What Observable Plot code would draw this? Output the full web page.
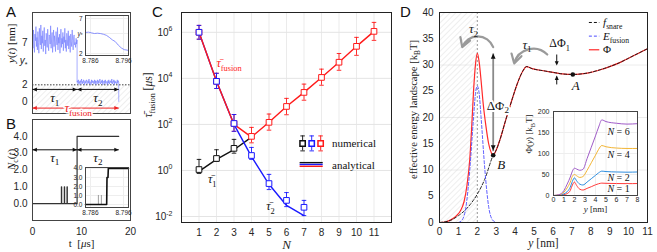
<!DOCTYPE html>
<html><head><meta charset="utf-8">
<script src="https://cdn.jsdelivr.net/npm/d3@7"></script>
<script src="https://cdn.jsdelivr.net/npm/@observablehq/plot@0.6"></script>
<style>
body{margin:0;background:#fff;}
#wrap{position:relative;width:657px;height:252px;overflow:hidden;background:#fff;}
.lbl{position:absolute;font:15px "Liberation Sans",Arial,sans-serif;color:#111;line-height:15px;}
</style></head><body>
<svg width="0" height="0" style="position:absolute"><defs>
<pattern id="hatch" width="4" height="4" patternUnits="userSpaceOnUse" patternTransform="rotate(45)"><line x1="0" y1="0" x2="0" y2="4" stroke="#cfcfcf" stroke-width="0.7"/></pattern>
</defs></svg>
<div id="wrap">
<div class="lbl" style="left:6px;top:4px">A</div>
<div class="lbl" style="left:6px;top:116px">B</div>
<div class="lbl" style="left:152px;top:4px">C</div>
<div class="lbl" style="left:400px;top:4px">D</div>
</div>
<script>
// ================= DATA =================
// Panel A / B : time axis (µs)
const phaseT = [0, 9.1, 17.6];
const yPhase1 = [7.8,6.4,8.6,7.0,5.9,8.1,7.3,9.0,6.6,7.7,6.2,8.4,7.1,5.8,8.8,7.5,6.8,9.2,6.3,7.9,7.0,8.5,6.0,7.6,8.9,6.7,7.4,5.7,8.2,7.2,6.5,8.7,7.0,6.1,8.0,7.8,6.9,9.1,6.4,7.5,8.3,5.9,7.1,8.6,6.6,7.9,7.2,6.0,8.4,7.4,6.8,8.9,6.2,7.7,7.0,8.1,5.8,7.3,8.7,6.5,7.6,6.9,8.3,6.1,7.8,7.1,8.8,6.4,7.4,6.0,8.2,7.5,6.7,8.5,6.3,7.9,7.0,5.9,8.1,7.2,6.6,8.6,7.3,6.2,7.8,8.0,6.8,7.1,6.5,7.6,6.9,7.4];
const yPhase2 = [2.3,2.5,2.1,2.6,2.2,2.4,2.0,2.5,2.3,2.7,2.1,2.4,2.2,2.6,2.3,2.0,2.5,2.2,2.4,2.6,2.1,2.3,2.5,2.2,2.7,2.1,2.4,2.3,2.0,2.6,2.2,2.5,2.3,2.4,2.1,2.6,2.2,2.5,2.0,2.4,2.3,2.6,2.1,2.5,2.2,2.4,2.7,2.1,2.3,2.5,2.2,2.6,2.0,2.4,2.3,2.5,2.1,2.6,2.2,2.4,2.3,2.0,2.5,2.2,2.6,2.1,2.4,2.3,2.5,2.2,2.7,2.1,2.4,2.3,2.6,2.0,2.5,2.2,2.4,2.3,2.1,2.6,2.2,2.5,2.3];
const yStar = 4.85;
const thresholdA = 2;
const yTicksA = [0, 2, yStar, 7];
const yTickLabA = ["0", "2", "$y$_{*}", "7"];
const insetAT = [8.7845,8.7854,8.7863,8.7872,8.7881,8.7890,8.7899,8.7908,8.7917,8.7926,8.7935,8.7944,8.7953,8.7962,8.7974];
const insetAY = [5.0,5.05,4.95,4.85,4.9,4.85,4.75,4.6,4.3,3.95,3.7,3.2,2.8,2.55,2.45];
const insetTicks = [8.786, 8.796];
const insetTickLab = ["8.786", "8.796"];
// Nc(t)
const nT = [0, 5.9, 5.95, 6.5, 6.55, 7.05, 7.1, 9.1, 17.6];
const nV = [0, 1, 0, 1, 0, 1, 0, 4, 4];
const insetBT = [8.7845, 8.7909, 8.7910, 8.7913, 8.7914, 8.7975];
const insetBN = [0, 0, 3, 3, 4, 4];
const insetBSpikes = [8.7884, 8.7893];

// Panel C (log10 of mean fusion time, µs)
const Ns = [1,2,3,4,5,6,7,8,9,10,11];
const fusNumLog = [6.0,3.87,2.04,1.48,2.09,2.78,3.39,4.04,4.7,5.39,6.04];
const fusHiLog  = [6.3,4.22,2.43,1.87,2.45,3.13,3.75,4.4,5.08,5.78,6.43];
const fusLoLog  = [5.7,3.56,1.7,1.2,1.75,2.42,3.05,3.7,4.35,5.0,5.65];
const fusAnaLog = [6.0,3.87,2.0,1.45,2.09,2.78,3.39,4.04,4.7,5.39,6.04];
const N2 = [1,2,3,4,5,6,7];
const t2NumLog = [6.0,3.87,2.04,0.65,-0.57,-1.3,-1.6];
const t2HiLog  = [6.3,4.22,2.43,1.0,-0.17,-0.96,-1.3];
const t2LoLog  = [5.7,3.56,1.7,0.48,-0.83,-1.57,-1.96];
const t2AnaLog = [6.0,3.87,2.0,0.6,-0.6,-1.52,-1.96];
const N1 = [1,2,3];
const t1NumLog = [0.04,0.52,0.96];
const t1HiLog  = [0.48,0.9,1.35];
const t1LoLog  = [-0.13,0.39,0.75];
const N1ana = [1,2,3,4];
const t1AnaLog = [-0.04,0.48,0.9,1.45];
const yTicksC = [1e-2, 1, 1e2, 1e4, 1e6];
const yTickLabC = ["10^{-2}", "10^{0}", "10^{2}", "10^{4}", "10^{6}"];

// Panel D (energy landscape, kBT vs y nm)
const phiX = [0,0.3,0.6,0.9,1.1,1.3,1.45,1.6,1.7,1.8,1.9,2.0,2.1,2.2,2.3,2.45,2.6,2.75,2.84,3.0,3.2,3.5,3.8,4.1,4.4,4.6,4.9,5.5,6.0,6.5,7.05,7.5,8.0,8.5,9.0,9.5,10.0,10.5,11];
const phiV = [0,0.1,0.5,1.3,2.2,4,7,12,18,25,30,32.2,30.5,27,23,18.5,15,13.2,12.8,13.8,15.8,19.5,23,26.3,28.8,29.7,29.3,28.9,28.6,28.3,28.2,28.3,28.6,29.1,29.7,30.4,31.3,32.2,33.1];
const snareX = [0,0.5,1,1.5,2,2.4,2.84];
const snareV = [0,0.3,1.3,2.9,5.4,8.3,12.8];
const efusX = [1.0,1.2,1.4,1.6,1.8,1.9,2.0,2.1,2.2,2.4,2.6,2.8,3.0];
const efusV = [0,0.5,3,10,20,24.5,26,24.5,20,10,3,0.5,0];
const hatchD = 2;
const pointA = {x:7.05, y:28.2};
const pointB = {x:2.84, y:12.8};
const insetX = [0,0.5,1,1.3,1.6,1.8,2,2.2,2.5,2.8,3.2,3.6,4,4.3,4.6,5,6,7,8];
const phiN1 = [0,0.3,2,4.5,12,25,32,24,15,13,17,21,25.5,28,29.5,29,28.5,28.2,28.5];
const phiN2 = [0,0.6,4,9,20,34,42,35,27,25,32,40,48,54,58,57,56,55.5,56];
const phiN4 = [0,1.2,8,18,32,46,50,47,43,45,60,78,96,110,119,116,113,112,112];
const phiN6 = [0,1.8,12,27,44,58,65,63,60,62,88,115,142,163,180,176,172,170,171];
const insetSeries = ["N = 1","N = 2","N = 4","N = 6"];

// ================= HELPERS =================
const wrap = document.getElementById("wrap");
const SANS = "Liberation Sans, Arial, Helvetica, sans-serif";
const SERIF = "Liberation Serif, Times New Roman, serif";
const common = (left, top) => ({position:"absolute", left:left+"px", top:top+"px", background:"transparent", overflow:"visible", fontFamily:SANS, fontSize:"10px", color:"#262626"});
const tri = (ang) => ({draw(ctx, size){
  const r = Math.sqrt(size/Math.PI), L = r*2.2, W = r*1.0, ca = Math.cos(ang), sa = Math.sin(ang);
  const p = [[0,0],[-L,-W],[-L,W]].map(([x,y]) => [x*ca - y*sa, x*sa + y*ca]);
  ctx.moveTo(p[0][0],p[0][1]); ctx.lineTo(p[1][0],p[1][1]); ctx.lineTo(p[2][0],p[2][1]); ctx.closePath();
}});
const triR = tri(0), triL = tri(Math.PI), triD = tri(Math.PI/2), triU = tri(-Math.PI/2);
const mapOf = (ks, vs) => new Map(ks.map((k,i)=>[k, vs[i]]));
const place = (svg) => wrap.appendChild(svg);
const pow = (v) => Math.pow(10, v);

// ================= PANEL A =================
const xDomT = [0, 20];
const yDomA = [-1.45, 10.7];
const sigA = [];
yPhase1.forEach((v,i)=>sigA.push({t: phaseT[0] + i*(phaseT[1]-phaseT[0])/(yPhase1.length-1), y: v}));
yPhase2.forEach((v,i)=>sigA.push({t: phaseT[1] + i*(phaseT[2]-phaseT[1])/(yPhase2.length-1), y: v}));
sigA.push({t: phaseT[2], y: 0});
const arrowYA = [1.45, -0.8];
const arrowsA = [
  {x1:phaseT[0], x2:phaseT[1], y:arrowYA[0], c:"#111"},
  {x1:phaseT[1], x2:phaseT[2], y:arrowYA[0], c:"#111"},
  {x1:phaseT[0], x2:phaseT[2], y:arrowYA[1], c:"#ee2222"}
];
const textsA = [
  {x:(phaseT[0]+phaseT[1])/2, y:0.45, s:"$τ$_{1}", c:"#111"},
  {x:(phaseT[1]+phaseT[2])/2, y:0.45, s:"$τ$_{2}", c:"#111"},
  {x:(phaseT[0]+phaseT[2])/2 + 0.5, y:arrowYA[1], s:"$τ$_{fusion}", c:"#ee2222"}
];
const labA = mapOf(yTicksA, yTickLabA);
place(Plot.plot({
  width:135, height:118, marginLeft:32, marginRight:5, marginTop:12, marginBottom:5,
  style: common(0,0), color:{type:"identity"},
  x:{domain:xDomT, axis:null},
  y:{domain:yDomA, ticks:yTicksA, tickFormat:d=>labA.get(d), tickSize:0, tickPadding:5, label:null},
  marks:[
    Plot.rect([0], {x1:xDomT[0], x2:xDomT[1], y1:yDomA[0], y2:thresholdA, fill:"url(#hatch)"}),
    Plot.ruleY([thresholdA], {stroke:"#111", strokeWidth:0.8, strokeDasharray:"1.5,1.5"}),
    Plot.line(sigA, {x:"t", y:"y", stroke:"#6f78ff", strokeWidth:0.6}),
    Plot.frame({stroke:"#444"}),
    Plot.link(arrowsA, {x1:"x1", x2:"x2", y1:"y", y2:"y", stroke:"c", strokeWidth:1}),
    Plot.dot(arrowsA, {x:"x1", y:"y", symbol:triL, r:2, fill:"c", stroke:"none"}),
    Plot.dot(arrowsA, {x:"x2", y:"y", symbol:triR, r:2, fill:"c", stroke:"none"}),
    Plot.text(textsA, {x:"x", y:"y", text:"s", fill:"c", fontFamily:SERIF, fontSize:13, stroke:d=>d.c==="#111"?"none":"white", strokeWidth:3}),
    Plot.text(["$y$($t$) [nm]"], {frameAnchor:"left", rotate:-90, dx:-21, fontFamily:SERIF, fontSize:11, fill:"#222"})
  ]
}));
// inset A
const labIn = mapOf(insetTicks, insetTickLab);
const labInA = mapOf([2, yStar, 7], ["2", "$y$_{*}", "7"]);
place(Plot.plot({
  width:60, height:65, marginLeft:15, marginRight:2, marginTop:10, marginBottom:15,
  style: {...common(70,5), fontSize:"6.5px"},
  x:{domain:[8.7845, 8.7975], ticks:insetTicks, tickFormat:d=>labIn.get(d), tickSize:0, tickPadding:3, label:null},
  y:{domain:[1.71, 7.43], ticks:[2, yStar, 7], tickFormat:d=>labInA.get(d), tickSize:0, tickPadding:3, label:null},
  marks:[
    Plot.frame({fill:"white", stroke:"none"}),
    Plot.ruleX(insetTicks, {stroke:"#eee"}),
    Plot.ruleY([2, yStar, 7], {stroke:"#eee"}),
    Plot.line(insetAT.map((t,i)=>({t, y:insetAY[i]})), {x:"t", y:"y", stroke:"#6f78ff", strokeWidth:0.8}),
    Plot.frame({stroke:"#444"})
  ]
}));

// ================= PANEL B =================
const nData = nT.map((t,i)=>({t, n:nV[i]}));
const arrowYB = 3.2;
const arrowsB = [
  {x1:phaseT[0], x2:phaseT[1], y:arrowYB},
  {x1:phaseT[1], x2:phaseT[2], y:arrowYB}
];
const textsB = [
  {x:(phaseT[0]+phaseT[1])/2, y:2.75, s:"$τ$_{1}"},
  {x:(phaseT[1]+phaseT[2])/2, y:2.75, s:"$τ$_{2}"}
];
place(Plot.plot({
  width:135, height:137, marginLeft:32, marginRight:5, marginTop:4, marginBottom:32,
  style: common(0,115),
  x:{domain:xDomT, ticks:[0,10,20], tickSize:0, tickPadding:7, label:null},
  y:{domain:[-1, 5], ticks:[0,1,2,3,4], tickSize:0, tickPadding:5, label:null},
  marks:[
    Plot.line(nData, {x:"t", y:"n", curve:"step-after", stroke:"#333", strokeWidth:1.2}),
    Plot.frame({stroke:"#444"}),
    Plot.link(arrowsB, {x1:"x1", x2:"x2", y1:"y", y2:"y", stroke:"#111", strokeWidth:1}),
    Plot.dot(arrowsB, {x:"x1", y:"y", symbol:triL, r:2, fill:"#111", stroke:"none"}),
    Plot.dot(arrowsB, {x:"x2", y:"y", symbol:triR, r:2, fill:"#111", stroke:"none"}),
    Plot.text(textsB, {x:"x", y:"y", text:"s", fill:"#111", fontFamily:SERIF, fontSize:13}),
    Plot.text(["$N$_{c}($t$)"], {frameAnchor:"left", rotate:-90, dx:-21, fontFamily:SERIF, fontSize:11, fill:"#222"}),
    Plot.text(["t  [$μ$s]"], {frameAnchor:"bottom", dy:26, fontFamily:SERIF, fontSize:11, fill:"#222"})
  ]
}));
// inset B
place(Plot.plot({
  width:60, height:65, marginLeft:15, marginRight:2, marginTop:10, marginBottom:15,
  style: {...common(70,157), fontSize:"6.5px"},
  x:{domain:[8.7845, 8.7975], ticks:insetTicks, tickFormat:d=>labIn.get(d), tickSize:0, tickPadding:3, label:null},
  y:{domain:[-0.33, 4.1], ticks:[0,1,2,3,4], tickSize:0, tickPadding:3, label:null},
  marks:[
    Plot.frame({fill:"white", stroke:"none"}),
    Plot.ruleX(insetTicks, {stroke:"#eee"}),
    Plot.ruleY([0,1,2,3,4], {stroke:"#eee"}),
    Plot.ruleX(insetBSpikes, {y1:0, y2:1, stroke:"#888", strokeWidth:0.8}),
    Plot.line(insetBT.map((t,i)=>({t, n:insetBN[i]})), {x:"t", y:"n", stroke:"#111", strokeWidth:1.6}),
    Plot.frame({stroke:"#444"})
  ]
}));

// ================= PANEL C =================
const mk = (Nx, v, lo, hi) => Nx.map((N,i)=>({N, v:pow(v[i]), lo:pow(lo[i]), hi:pow(hi[i])}));
const fusNum = mk(Ns, fusNumLog, fusLoLog, fusHiLog);
const t2Num = mk(N2, t2NumLog, t2LoLog, t2HiLog);
const t1Num = mk(N1, t1NumLog, t1LoLog, t1HiLog);
const fusAna = Ns.map((N,i)=>({N, v:pow(fusAnaLog[i])}));
const t2Ana = N2.map((N,i)=>({N, v:pow(t2AnaLog[i])}));
const t1Ana = N1ana.map((N,i)=>({N, v:pow(t1AnaLog[i])}));
const RED = "#ff1a1a", BLUE = "#1a1aff", BLK = "#111";
const capW = 0.13;
const errMarks = (data, c) => [
  Plot.ruleX(data, {x:"N", y1:"lo", y2:"hi", stroke:c, strokeWidth:0.9}),
  Plot.link(data, {x1:d=>d.N-capW, x2:d=>d.N+capW, y1:"hi", y2:"hi", stroke:c, strokeWidth:0.9}),
  Plot.link(data, {x1:d=>d.N-capW, x2:d=>d.N+capW, y1:"lo", y2:"lo", stroke:c, strokeWidth:0.9}),
  Plot.dot(data, {x:"N", y:"v", symbol:"square", r:3.2, fill:"white", stroke:c, strokeWidth:1})
];
const legNum = [
  {N:6.92, v:pow(1.17), lo:pow(0.85), hi:pow(1.5), c:BLK},
  {N:7.44, v:pow(1.17), lo:pow(0.85), hi:pow(1.5), c:BLUE},
  {N:7.95, v:pow(1.17), lo:pow(0.85), hi:pow(1.5), c:RED}
];
const legAna = [
  {x1:6.75, x2:8.07, v:pow(0.34), c:BLK},
  {x1:6.75, x2:8.07, v:pow(0.26), c:BLUE},
  {x1:6.75, x2:8.07, v:pow(0.18), c:RED}
];
const legTxt = [
  {N:8.6, v:pow(1.17), s:"numerical"},
  {N:8.6, v:pow(0.22), s:"analytical"}
];
const textsC = [
  {N:2.0, v:pow(4.65), s:"$τ̄$_{fusion}", c:RED, a:"start"},
  {N:1.75, v:pow(-0.39), s:"$τ̄$_{1}", c:BLK, a:"middle"},
  {N:5.08, v:pow(-1.57), s:"$τ̄$_{2}", c:BLK, a:"middle"}
];
const labC = mapOf(yTicksC, yTickLabC);
place(Plot.plot({
  width:275, height:252, marginLeft:46, marginRight:19, marginTop:12, marginBottom:30,
  style: common(135,0), color:{type:"identity"},
  x:{domain:[0,12], ticks:Ns, tickSize:0, tickPadding:6, label:null},
  y:{type:"log", domain:[pow(-2.26), pow(6.86)], ticks:yTicksC, tickFormat:d=>labC.get(d), tickSize:0, tickPadding:9, label:null},
  marks:[
    Plot.ruleX(Ns, {stroke:"#ebebeb"}),
    Plot.ruleY(yTicksC, {stroke:"#e4e4e4"}),
    Plot.line(t1Ana, {x:"N", y:"v", stroke:BLK, strokeWidth:1.4}),
    Plot.line(t2Ana, {x:"N", y:"v", stroke:BLUE, strokeWidth:1.4}),
    Plot.line(fusAna, {x:"N", y:"v", stroke:RED, strokeWidth:1.4}),
    ...errMarks(t1Num, BLK),
    ...errMarks(fusNum, RED),
    ...errMarks(t2Num, BLUE),
    Plot.ruleX(legNum, {x:"N", y1:"lo", y2:"hi", stroke:"c", strokeWidth:0.9}),
    Plot.link(legNum, {x1:d=>d.N-capW, x2:d=>d.N+capW, y1:"hi", y2:"hi", stroke:"c", strokeWidth:0.9}),
    Plot.link(legNum, {x1:d=>d.N-capW, x2:d=>d.N+capW, y1:"lo", y2:"lo", stroke:"c", strokeWidth:0.9}),
    Plot.dot(legNum, {x:"N", y:"v", symbol:"square", r:3, fill:"white", stroke:"c"}),
    Plot.link(legAna, {x1:"x1", x2:"x2", y1:"v", y2:"v", stroke:"c", strokeWidth:1.4}),
    Plot.text(legTxt, {x:"N", y:"v", text:"s", textAnchor:"start", fontFamily:SERIF, fontSize:11, fill:"#111"}),
    Plot.text(textsC, {x:"N", y:"v", text:"s", fill:"c", textAnchor:"start", fontFamily:SERIF, fontSize:12, filter:d=>d.a==="start"}),
    Plot.text(textsC, {x:"N", y:"v", text:"s", fill:"c", fontFamily:SERIF, fontSize:12, filter:d=>d.a==="middle"}),
    Plot.frame({stroke:"#222"}),
    Plot.text(["$τ̄$_{fusion} [$μ$s]"], {frameAnchor:"left", rotate:-90, dx:-33, fontFamily:SERIF, fontSize:11.5, fill:"#222"}),
    Plot.text(["$N$"], {frameAnchor:"bottom", dy:26, fontFamily:SERIF, fontSize:13, fill:"#222"})
  ]
}));

// ================= PANEL D =================
const phi = phiX.map((x,i)=>({x, v:phiV[i]}));
const snare = snareX.map((x,i)=>({x, v:snareV[i]})).concat(phi.filter(d=>d.x > pointB.x));
const efus = efusX.map((x,i)=>({x, v:efusV[i]}));
const xDomD = [0, 11], yDomD = [0, 40];
const legD = [
  {x1:7.9, x2:8.45, v:38.1, s:"$f$_{snare}", c:"#111", dash:"3,2"},
  {x1:7.9, x2:8.45, v:35.5, s:"$E$_{fusion}", c:"#4d4dff", dash:"3,2"},
  {x1:7.9, x2:8.45, v:32.9, s:"Φ", c:"#ff2a2a", dash:null}
];
const dPhi1X = 6.2;
place(Plot.plot({
  width:257, height:252, marginLeft:39, marginRight:10, marginTop:12, marginBottom:30,
  style: common(400,0), color:{type:"identity"},
  x:{domain:xDomD, ticks:[0,1,2,3,4,5,6,7,8,9,10,11], tickSize:0, tickPadding:5, label:null},
  y:{domain:yDomD, ticks:[0,5,10,15,20,25,30,35,40], tickSize:0, tickPadding:6, label:null},
  marks:[
    Plot.ruleY([10,20,30], {stroke:"#ececec"}),
    Plot.rect([0], {x1:xDomD[0], x2:hatchD, y1:yDomD[0], y2:yDomD[1], fill:"url(#hatch)"}),
    Plot.ruleX([hatchD], {stroke:"#999", strokeWidth:1, strokeDasharray:"2,2"}),
    Plot.line(phi, {x:"x", y:"v", stroke:"#ff2a2a", strokeWidth:1.2, curve:"monotone-x"}),
    Plot.line(snare, {x:"x", y:"v", stroke:"#111", strokeWidth:0.9, strokeDasharray:"3,2", curve:"monotone-x"}),
    Plot.line(efus, {x:"x", y:"v", stroke:"#4d4dff", strokeWidth:0.9, strokeDasharray:"3,2", curve:"monotone-x"}),
    // ΔΦ2
    Plot.link([0], {x1:pointB.x, x2:pointB.x, y1:pointB.y+0.8, y2:32.2, stroke:"#8a8a8a", strokeWidth:1.8}),
    Plot.dot([0], {x:pointB.x, y:32.2, symbol:triU, r:2.4, fill:"#111", stroke:"none"}),
    Plot.dot([0], {x:pointB.x, y:pointB.y+0.9, symbol:triD, r:2.4, fill:"#111", stroke:"none"}),
    Plot.text(["ΔΦ_{2}"], {x:pointB.x+0.25, y:22.3, fontFamily:SERIF, fontSize:13, fill:"#111", stroke:"white", strokeWidth:4}),
    // ΔΦ1
    Plot.link([0], {x1:dPhi1X, x2:dPhi1X, y1:32.0, y2:30.2, stroke:"#111", strokeWidth:1}),
    Plot.dot([0], {x:dPhi1X, y:29.9, symbol:triD, r:2, fill:"#111", stroke:"none"}),
    Plot.link([0], {x1:dPhi1X, x2:dPhi1X, y1:26.3, y2:27.8, stroke:"#111", strokeWidth:1}),
    Plot.dot([0], {x:dPhi1X, y:28.0, symbol:triU, r:2, fill:"#111", stroke:"none"}),
    Plot.text(["ΔΦ_{1}"], {x:dPhi1X+0.15, y:34.1, fontFamily:SERIF, fontSize:12, fill:"#111"}),
    // curved arrows
    Plot.arrow([0], {x1:2.84, y1:33.4, x2:1.2, y2:33.4, bend:-70, stroke:"#9a9a9a", strokeWidth:2.2, headLength:7}),
    Plot.arrow([0], {x1:5.7, y1:32.0, x2:3.95, y2:30.3, bend:-60, stroke:"#9a9a9a", strokeWidth:2.2, headLength:7}),
    Plot.text(["$τ$_{2}"], {x:1.8, y:36.8, fontFamily:SERIF, fontSize:13, fill:"#222"}),
    Plot.text(["$τ$_{1}"], {x:4.63, y:33.9, fontFamily:SERIF, fontSize:13, fill:"#222"}),
    // points
    Plot.dot([pointA, pointB], {x:"x", y:"y", r:2.3, fill:"#111", stroke:"none"}),
    Plot.text(["$A$"], {x:pointA.x+0.15, y:pointA.y-2.1, fontFamily:SERIF, fontSize:13, fill:"#111"}),
    Plot.text(["$B$"], {x:pointB.x+0.42, y:pointB.y-1.9, fontFamily:SERIF, fontSize:13, fill:"#111"}),
    // legend
    Plot.link(legD.filter(d=>d.dash), {x1:"x1", x2:"x2", y1:"v", y2:"v", stroke:"c", strokeWidth:1, strokeDasharray:"3,2"}),
    Plot.link(legD.filter(d=>!d.dash), {x1:"x1", x2:"x2", y1:"v", y2:"v", stroke:"c", strokeWidth:1.2}),
    Plot.text(legD, {x:d=>d.x2+0.2, y:"v", text:"s", textAnchor:"start", fontFamily:SERIF, fontSize:11, fill:"#111"}),
    Plot.frame({stroke:"#222"}),
    Plot.text(["effective energy landscape [k_{B}T]"], {frameAnchor:"left", rotate:-90, dx:-26, dy:-8, fontFamily:SERIF, fontSize:10.6, fill:"#222"}),
    Plot.text(["$y$ [nm]"], {frameAnchor:"bottom", dy:24, fontFamily:SERIF, fontSize:11.5, fill:"#222"})
  ]
}));
// inset D
const insetColors = ["#ff3b3b", "#2f8fe0", "#f2b536", "#a05cc8"];
const insetVals = [phiN1, phiN2, phiN4, phiN6];
const insetData = insetSeries.flatMap((s,k)=>insetX.map((x,i)=>({s, x, v:insetVals[k][i], c:insetColors[k]})));
const insetLab = [
  {x:6.2, v:17, s:"$N$ = 1"},
  {x:6.2, v:43, s:"$N$ = 2"},
  {x:6.2, v:98, s:"$N$ = 4"},
  {x:6.2, v:152, s:"$N$ = 6"}
];
place(Plot.plot({
  width:127, height:115, marginLeft:33, marginRight:10, marginTop:11, marginBottom:20,
  style: {...common(520,100), fontSize:"7px"}, color:{type:"identity"},
  x:{domain:[0,8], ticks:[0,1,2,3,4,5,6,7,8], tickSize:0, tickPadding:2, label:null},
  y:{domain:[0,200], ticks:[0,50,100,150,200], tickSize:0, tickPadding:4, label:null},
  marks:[
    Plot.frame({fill:"white", stroke:"none"}),
    Plot.ruleX([0,1,2,3,4,5,6,7,8], {stroke:"#eeeeee"}),
    Plot.ruleY([50,100,150], {stroke:"#eeeeee"}),
    Plot.line(insetData, {x:"x", y:"v", z:"s", stroke:"c", strokeWidth:1, curve:"monotone-x"}),
    Plot.text(insetLab, {x:"x", y:"v", text:"s", fontFamily:SERIF, fontSize:10, fill:"#111", stroke:"white", strokeWidth:2}),
    Plot.frame({stroke:"#444"}),
    Plot.text(["Φ($y$) [k_{B}T]"], {frameAnchor:"left", rotate:-90, dx:-24, fontFamily:SERIF, fontSize:9, fill:"#222"}),
    Plot.text(["$y$ [nm]"], {frameAnchor:"bottom", dy:16.5, fontFamily:SERIF, fontSize:9, fill:"#222"})
  ]
}));

// ================= RICH TEXT (italic / sub / sup) =================
function richify(el){
  const s = el.textContent;
  if (!/\$|_\{|\^\{/.test(s)) return;
  const F = parseFloat(getComputedStyle(el).fontSize) || 10;
  const toks = []; let i = 0, it = false, buf = "";
  const flush = () => { if (buf) { toks.push({t:buf, it, k:"n"}); buf = ""; } };
  while (i < s.length) {
    const c = s[i];
    if (c === "$") { flush(); it = !it; i++; continue; }
    if ((c === "_" || c === "^") && s[i+1] === "{") {
      flush(); const j = s.indexOf("}", i);
      toks.push({t:s.slice(i+2, j), it:false, k:c === "_" ? "sub" : "sup"}); i = j + 1; continue;
    }
    buf += c; i++;
  }
  flush();
  let html = "", pend = 0;
  for (const k of toks) {
    let shift = 0, fs = "";
    if (k.k === "sub") { shift = 0.28*F; fs = ` font-size="${(0.7*F).toFixed(2)}px"`; }
    if (k.k === "sup") { shift = -0.42*F; fs = ` font-size="${(0.7*F).toFixed(2)}px"`; }
    const dy = pend + shift;
    html += `<tspan${fs}${k.it ? ' font-style="italic"' : ""}${dy ? ` dy="${dy.toFixed(2)}"` : ""}>${k.t}</tspan>`;
    pend = -shift;
  }
  el.innerHTML = html;
}
wrap.querySelectorAll("text").forEach(richify);
// keep the long rotated label of panel D inside its height
wrap.querySelectorAll("text").forEach(el => {
  if (el.textContent.startsWith("effective")) {
    el.setAttribute("text-anchor", "middle");
    const L = el.getComputedTextLength();
    if (L > 170) { el.setAttribute("textLength", "170"); el.setAttribute("lengthAdjust", "spacingAndGlyphs"); }
  }
});
</script>
</body></html>
